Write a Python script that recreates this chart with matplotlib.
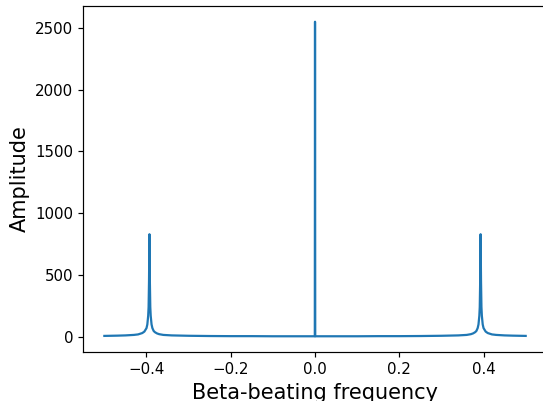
import matplotlib
matplotlib.use("Agg")
import matplotlib.pyplot as plt

# spectrum (frequency, amplitude)
freq = [-0.5, -0.47, -0.45, -0.43, -0.42, -0.41, -0.405, -0.40, -0.398, -0.396,
        -0.395, -0.394, -0.393, -0.392, -0.391, -0.39, -0.388, -0.386, -0.383,
        -0.38, -0.375, -0.37, -0.36, -0.34, -0.3, -0.25, -0.2, -0.15, -0.1,
        -0.05, -0.0005, 0.0, 0.0005, 0.05, 0.1, 0.15, 0.2, 0.25, 0.3, 0.34, 0.36,
        0.37, 0.375, 0.38, 0.383, 0.386, 0.388, 0.39, 0.391, 0.392, 0.393,
        0.394, 0.395, 0.396, 0.398, 0.40, 0.405, 0.41, 0.42, 0.43, 0.45, 0.47,
        0.5]
amp = [7, 9, 11, 15, 19, 30, 42, 70, 100, 170,
       240, 450, 830, 450, 240, 170, 100, 70, 47,
       37, 27, 21, 15, 11, 8, 6, 5, 5, 4,
       4, 4, 2550, 4, 4, 4, 5, 5, 6, 8, 11, 15,
       21, 27, 37, 47, 70, 100, 170, 240, 450, 830,
       450, 240, 170, 100, 70, 42, 30, 19, 15, 11, 9,
       7]

fig = plt.figure(figsize=(5.43, 4.01), dpi=100)
ax = fig.add_axes([0.1534, 0.1222, 0.8535, 0.8628])

ax.plot(freq, amp, color="tab:blue", linewidth=1.6)

ax.set_xlabel("Beta-beating frequency", fontsize=15)
ax.set_ylabel("Amplitude", fontsize=15)
ax.tick_params(labelsize=10.8, length=3.8, width=0.86)
for s in ax.spines.values():
    s.set_linewidth(0.86)
ax.spines["right"].set_visible(False)  # falls outside the cropped figure

fig.savefig("out.png", dpi=100)
